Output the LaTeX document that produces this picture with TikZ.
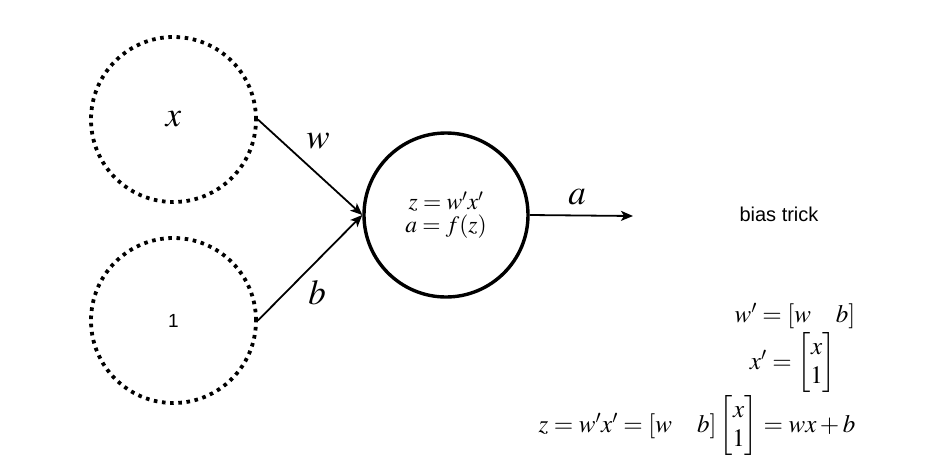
\documentclass[tikz,border=0pt]{standalone}
\usepackage{amsmath}
\usepackage{mathptmx}
\usepackage{fontspec}
\setmainfont{Liberation Serif}
\newfontfamily\sansf{Liberation Sans}
\usetikzlibrary{arrows.meta}
\tikzset{
  dotc/.style={circle, draw, minimum size=165pt, inner sep=0pt, line width=3.8pt, dash pattern=on 3.6pt off 4.6pt},
  neuron/.style={circle, draw, minimum size=164pt, inner sep=0pt, line width=3.4pt},
  arr/.style={line width=1.8pt, -{Stealth[length=12pt,width=10pt,inset=3pt]}},
  lbl/.style={inner sep=0pt, font=\fontsize{35}{40}\selectfont},
  eq/.style={inner sep=0pt, font=\fontsize{25}{29}\selectfont}
}
\begin{document}
\begin{tikzpicture}[x=1pt,y=-1pt]
\useasboundingbox (0,0) rectangle (935,464);
\node[dotc, font=\fontsize{35}{40}\selectfont] (x) at (173.5,119.5) {$x$};
\node[dotc, font=\sansf\fontsize{19}{22}\selectfont] (one) at (173.5,320.5) {1};
\node[neuron, align=center, font=\fontsize{23.5}{26}\selectfont] (n) at (446,215) {$z = w'x'$\\[-3pt]$a = f(z)$};
\coordinate (out) at (633,216);
\draw[arr] (x.east) -- (n.west);
\draw[arr] (one.east) -- (n.west);
\draw[arr] (n.east) -- (out);
\node[lbl] (lw) at (318,141) {$w$};
\node[lbl] (lb) at (317,293) {$b$};
\node[lbl] (la) at (577,197) {$a$};
\node[inner sep=0pt, font=\sansf\fontsize{20}{23}\selectfont] (bt) at (779,214) {bias trick};
\node[eq] (e1) at (795,316) {$w' = [w\quad b]$};
\node[eq] (e2) at (793,363) {$x' = \begin{bmatrix} x \\ 1\end{bmatrix}$};
\node[eq] (e3) at (697,426) {$z = w'x' = [w\quad b]\begin{bmatrix} x \\ 1\end{bmatrix} = wx + b$};
\end{tikzpicture}
\end{document}
